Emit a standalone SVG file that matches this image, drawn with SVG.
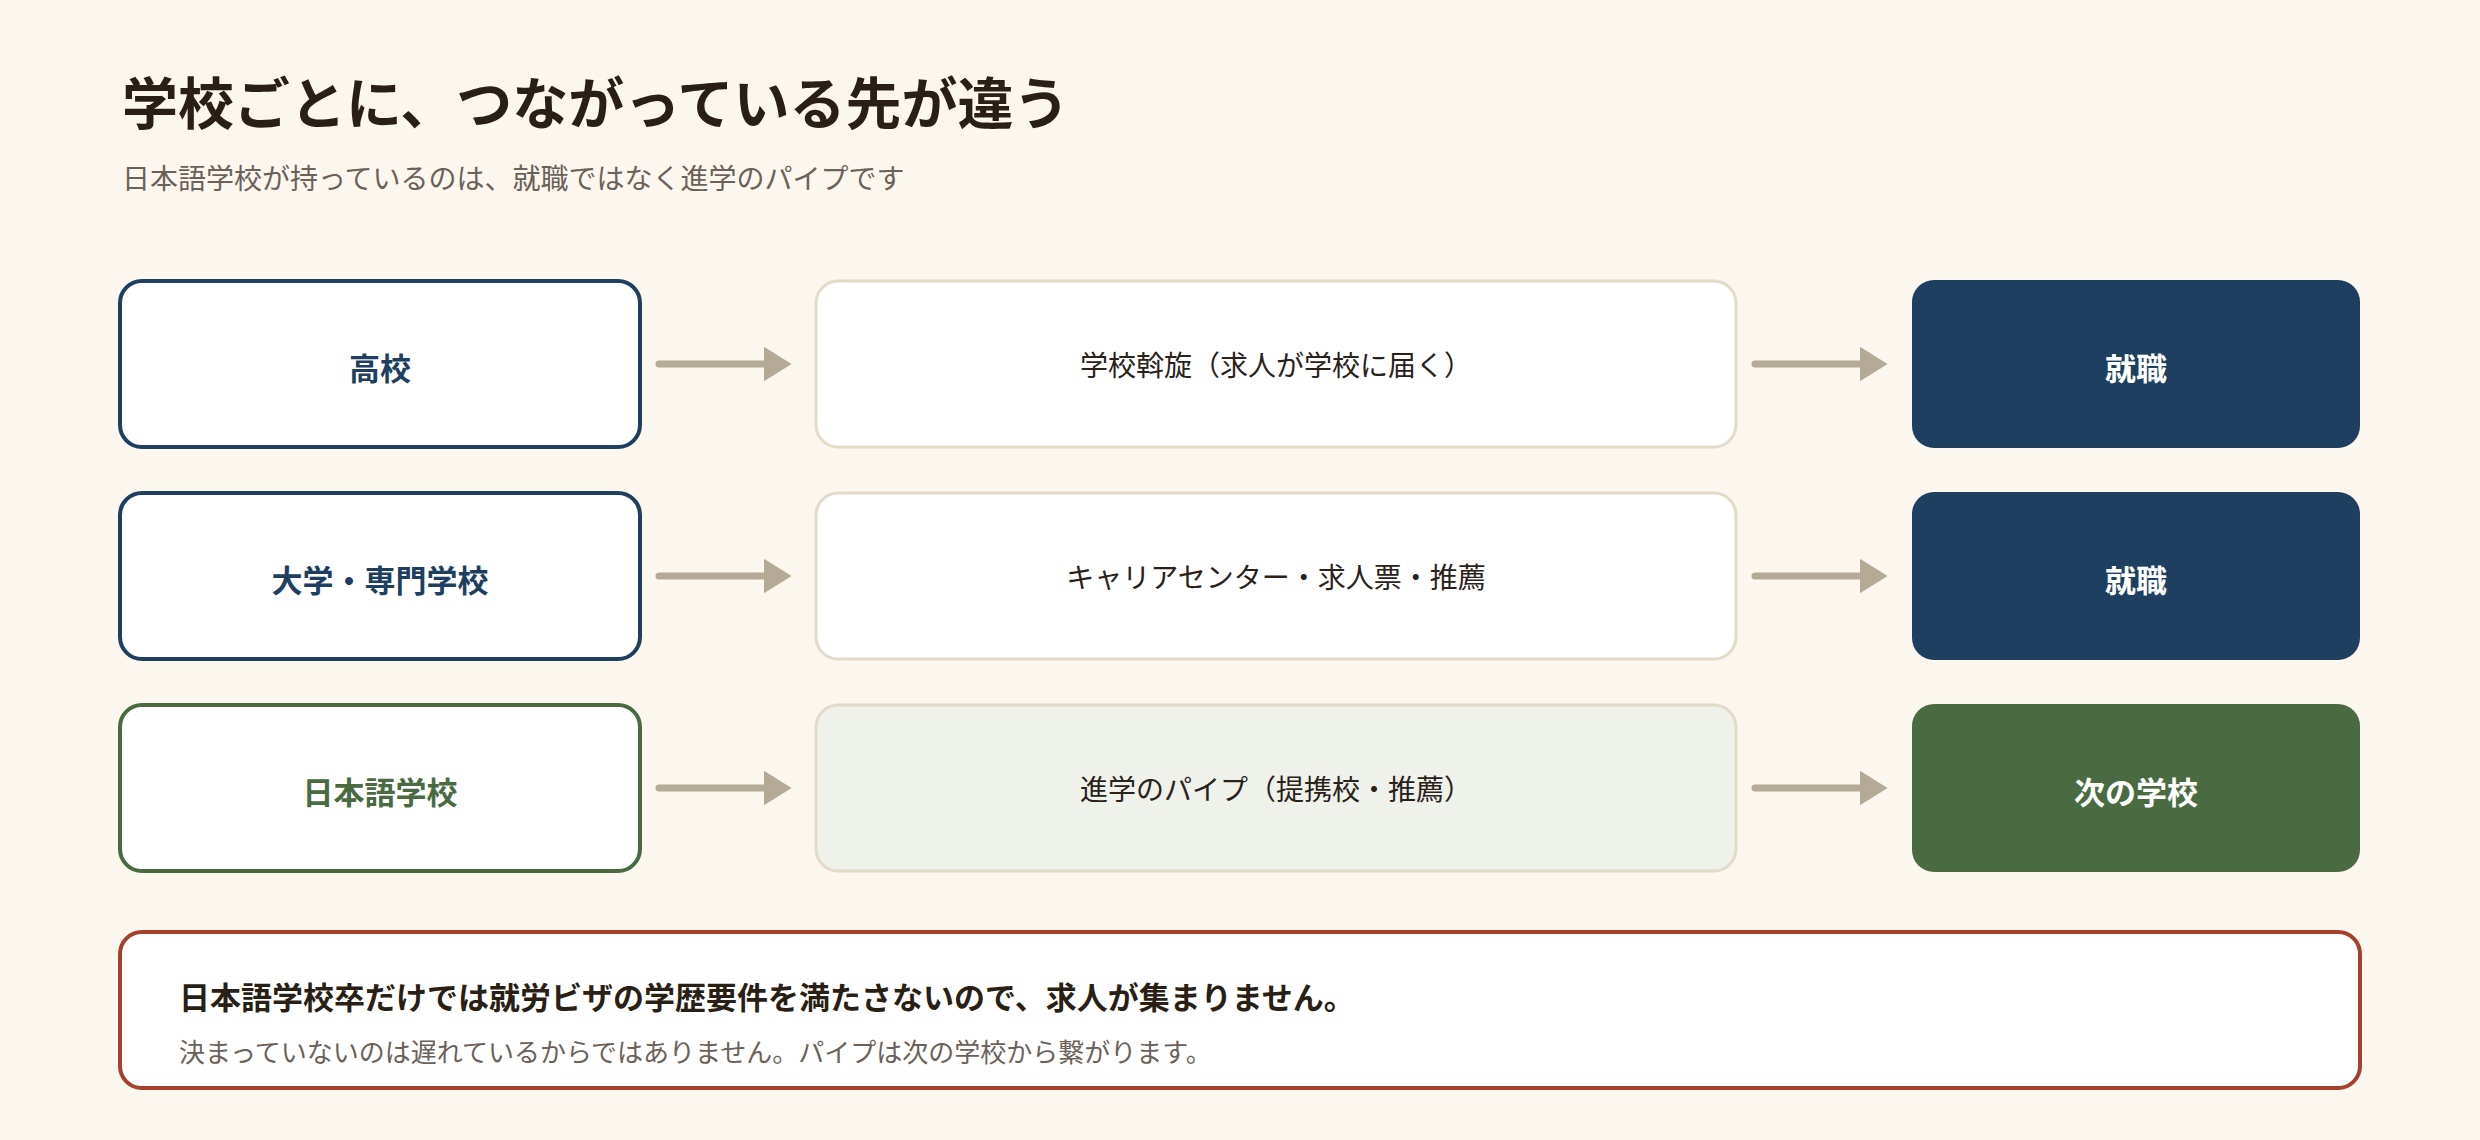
<svg xmlns="http://www.w3.org/2000/svg" width="2480" height="1140" viewBox="0 0 2480 1140">
<style>
text{font-family:"Noto Sans CJK JP","Noto Sans",sans-serif}
.lbl{font-size:31px;font-weight:700;text-anchor:middle;dominant-baseline:central}
.mid{font-size:28px;fill:#2a211a;text-anchor:middle;dominant-baseline:central}
.mbox{fill:#fff;stroke:#e3dac8;stroke-width:3}
.conn{stroke:#b5aa96;stroke-width:7;stroke-linecap:round;fill:none}
</style>
<defs><marker id="ah" markerWidth="5" markerHeight="5" refX="1.2" refY="2.5" orient="auto" markerUnits="strokeWidth"><path d="M0,0 L4,2.5 L0,5Z" fill="#b5aa96"/></marker></defs>
<rect width="2480" height="1140" fill="#fbf7ee"/>
<text x="122" y="124" font-size="56" font-weight="700" fill="#2a1f14">学校ごとに、つながっている先が違う</text>
<text x="122" y="189" font-size="28" fill="#6b6158">日本語学校が持っているのは、就職ではなく進学のパイプです</text>
<g id="n1"><rect x="120" y="281" width="520" height="166" rx="22" fill="#fff" stroke="#1e3f5f" stroke-width="4"/><text x="380" y="366" class="lbl" fill="#1e3f5f">高校</text></g>
<g id="n2"><rect x="816" y="281" width="920" height="166" rx="22" class="mbox"/><text x="1276" y="364" class="mid">学校斡旋（求人が学校に届く）</text></g>
<g id="n3"><rect x="1912" y="280" width="448" height="168" rx="22" fill="#1e3f5f"/><text x="2136" y="366" class="lbl" fill="#fff">就職</text></g>
<g id="n4"><rect x="120" y="493" width="520" height="166" rx="22" fill="#fff" stroke="#1e3f5f" stroke-width="4"/><text x="380" y="578" class="lbl" fill="#1e3f5f">大学・専門学校</text></g>
<g id="n5"><rect x="816" y="493" width="920" height="166" rx="22" class="mbox"/><text x="1276" y="576" class="mid">キャリアセンター・求人票・推薦</text></g>
<g id="n6"><rect x="1912" y="492" width="448" height="168" rx="22" fill="#1e3f5f"/><text x="2136" y="578" class="lbl" fill="#fff">就職</text></g>
<g id="n7"><rect x="120" y="705" width="520" height="166" rx="22" fill="#fff" stroke="#4a6b42" stroke-width="4"/><text x="380" y="790" class="lbl" fill="#4a6b42">日本語学校</text></g>
<g id="n8"><rect x="816" y="705" width="920" height="166" rx="22" fill="#eef2ea" stroke="#e3dac8" stroke-width="3"/><text x="1276" y="788" class="mid">進学のパイプ（提携校・推薦）</text></g>
<g id="n9"><rect x="1912" y="704" width="448" height="168" rx="22" fill="#4a6b42"/><text x="2136" y="790" class="lbl" fill="#fff">次の学校</text></g>
<g id="connectors">
<line x1="659" y1="364" x2="772" y2="364" class="conn" marker-end="url(#ah)"/>
<line x1="1755" y1="364" x2="1868" y2="364" class="conn" marker-end="url(#ah)"/>
<line x1="659" y1="576" x2="772" y2="576" class="conn" marker-end="url(#ah)"/>
<line x1="1755" y1="576" x2="1868" y2="576" class="conn" marker-end="url(#ah)"/>
<line x1="659" y1="788" x2="772" y2="788" class="conn" marker-end="url(#ah)"/>
<line x1="1755" y1="788" x2="1868" y2="788" class="conn" marker-end="url(#ah)"/>
</g>
<g id="note"><rect x="120" y="932" width="2240" height="156" rx="22" fill="#fff" stroke="#a63f2c" stroke-width="4"/>
<text x="179" y="1009" font-size="31" font-weight="700" fill="#2a1f14">日本語学校卒だけでは就労ビザの学歴要件を満たさないので、求人が集まりません。</text>
<text x="179" y="1062" font-size="26" fill="#6b6158">決まっていないのは遅れているからではありません。パイプは次の学校から繋がります。</text></g>
</svg>
